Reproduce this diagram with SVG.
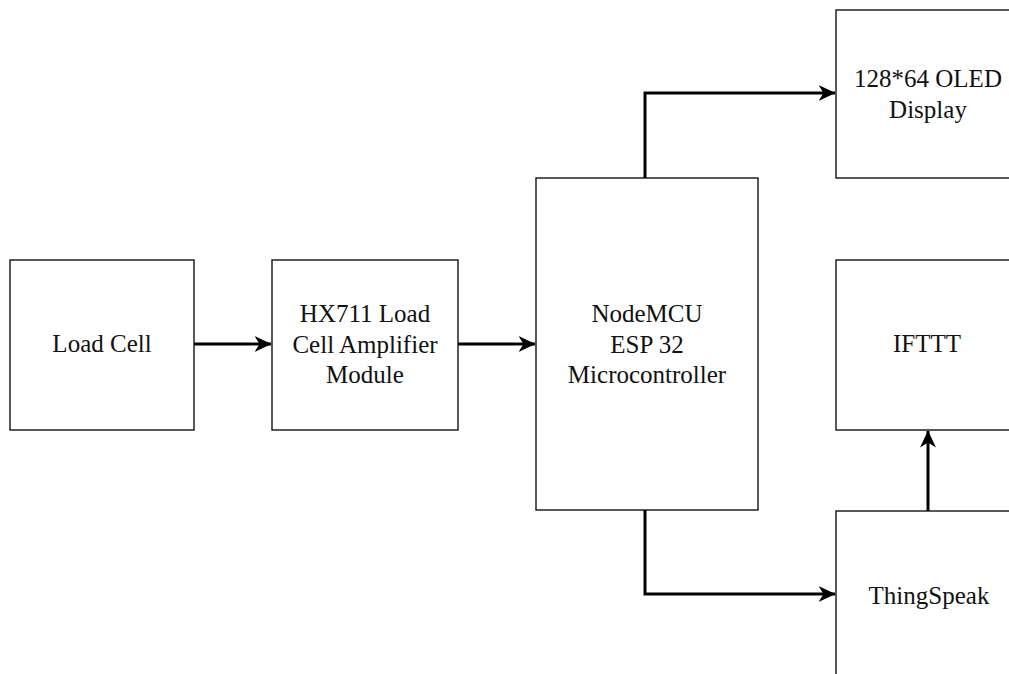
<svg xmlns="http://www.w3.org/2000/svg" width="1009" height="674" viewBox="0 0 1009 674">
<style>
.box{fill:#fff;stroke:#222;stroke-width:1.5}
.lbl{font-size:25px;fill:#111;text-anchor:middle}
.edge{fill:none;stroke:#000;stroke-width:3}
</style>
<defs>
<marker id="arr" viewBox="0 0 17 16" refX="16.5" refY="8" markerWidth="17" markerHeight="16" markerUnits="userSpaceOnUse" orient="auto">
<path d="M0,0 L17,8 L0,16 L5,8 Z" fill="#000"/>
</marker>
</defs>
<rect width="1009" height="674" fill="#fff"/>
<g font-family="'Liberation Serif', 'Times New Roman', Times, 'DejaVu Serif', serif">
<g id="load-cell">
<rect class="box" x="10" y="260" width="184" height="170"/>
<text class="lbl" x="102" y="352">Load Cell</text>
</g>
<g id="hx711">
<rect class="box" x="272" y="260" width="186" height="170"/>
<text class="lbl" x="365" y="322">HX711 Load</text>
<text class="lbl" x="365" y="353">Cell Amplifier</text>
<text class="lbl" x="365" y="383">Module</text>
</g>
<g id="nodemcu">
<rect class="box" x="536" y="178" width="222" height="332"/>
<text class="lbl" x="647" y="322">NodeMCU</text>
<text class="lbl" x="647" y="353">ESP 32</text>
<text class="lbl" x="647" y="383">Microcontroller</text>
</g>
<g id="oled">
<rect class="box" x="836" y="10" width="184" height="168"/>
<text class="lbl" x="928" y="87">128*64 OLED</text>
<text class="lbl" x="928" y="118">Display</text>
</g>
<g id="ifttt">
<rect class="box" x="836" y="260" width="184" height="170"/>
<text class="lbl" x="927" y="352">IFTTT</text>
</g>
<g id="thingspeak">
<rect class="box" x="836" y="511" width="184" height="170"/>
<text class="lbl" x="929" y="604">ThingSpeak</text>
</g>
</g>
<g id="connectors">
<path class="edge" d="M194,344 H271" marker-end="url(#arr)"/>
<path class="edge" d="M458,344 H535" marker-end="url(#arr)"/>
<path class="edge" d="M645,178 V93 H835" marker-end="url(#arr)"/>
<path class="edge" d="M645,510 V594 H835" marker-end="url(#arr)"/>
<path class="edge" d="M928,511 V431" marker-end="url(#arr)"/>
</g>
</svg>
